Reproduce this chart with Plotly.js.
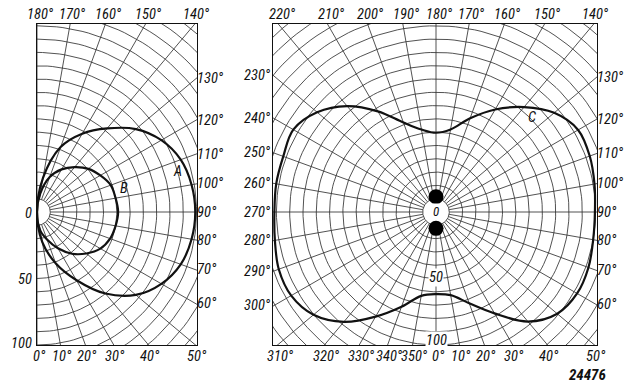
<!DOCTYPE html>
<html><head><meta charset="utf-8">
<script src="https://cdn.plot.ly/plotly-3.0.1.min.js"></script>
<style>body{margin:0;background:#fff}#chart{width:628px;height:387px}</style>
</head><body><div id="chart"></div>
<script>
// ---- data (polar: angle in degrees measured from downward direction, radius in chart units) ----
const anglesAB = [0,10,20,30,40,50,60,70,80,90,100,110,120,130,140,150,160,170,180];
const curveA   = [0,23,41,59,80,97,108,115,118,119,118,115,108,97,82,68,52,26,0];
const curveB   = [0,14,22,31.5,41,48.5,55,58.5,60,61,60,59,55,50.5,44,37,28,14,0];
const anglesC  = [0,10,20,30,40,50,60,70,80,90,100,110,120,130,140,150,160,170,180,
                  190,200,210,220,230,240,250,260,270,280,290,300,310,320,330,340,350,360];
const curveC   = [61.7,63.5,73,88,107.5,119,122.5,122,120,119.5,121,123,123.4,116,103,89,75,63,59.6,
                  63,71.6,87.4,104,116.7,123.9,122.2,122,121.5,123,125.8,125.7,120.2,107.8,90.8,75.8,64,61.7];
const dotAngles = [180,0];
const dotRadii  = [11.5,12.3];
const ringRadii = [10,20,30,40,50,60,70,80,90,100,110,120,130,140,150,160,170,180,190];
const spokeAngles = [0,10,20,30,40,50,60,70,80,90,100,110,120,130,140,150,160,170,
                     180,190,200,210,220,230,240,250,260,270,280,290,300,310,320,330,340,350];
const leftAngleLabels  = [0,10,20,30,40,50,60,70,80,90,100,110,120,130,140,150,160,170,180];
const rightAngleLabels = spokeAngles;
const leftRadiusLabels = ["0","50","100"];
const leftRadiusValues = [0,50,100];
const rightRadiusLabels = ["0","50","100"];
const rightRadiusValues = [0,50,100];

// ---- layout geometry ----
const W = 628, H = 387, S = 1.33;
const frameL = {x0:37, x1:197, y0:24, y1:345, ox:37, oy:212};
const frameR = {x0:273, x1:597, y0:24, y1:345, ox:436, oy:212};
function dataFrame(f){ return {xmin:(f.x0-f.ox)/S, xmax:(f.x1-f.ox)/S, ymin:-(f.y1-f.oy)/S, ymax:(f.oy-f.y0)/S}; }
const dL = dataFrame(frameL), dR = dataFrame(frameR);

const rad = d => d*Math.PI/180;
function toXY(th, rs){ const x=[],y=[]; th.forEach((t,i)=>{ x.push(rs[i]*Math.sin(rad(t))); y.push(-rs[i]*Math.cos(rad(t))); }); return {x,y}; }

function gridTraces(xa, ya){
  const rx=[], ry=[];
  ringRadii.forEach(r=>{ for(let d=0; d<=360; d+=2){ rx.push(r*Math.sin(rad(d))); ry.push(-r*Math.cos(rad(d))); } rx.push(null); ry.push(null); });
  const sx=[], sy=[];
  spokeAngles.forEach(d=>{ const s=Math.sin(rad(d)), c=-Math.cos(rad(d)); sx.push(10*s, 200*s, null); sy.push(10*c, 200*c, null); });
  const ln = {color:'#333', width:0.85};
  return [
    {type:'scatter', mode:'lines', x:rx, y:ry, xaxis:xa, yaxis:ya, line:ln, hoverinfo:'skip', showlegend:false},
    {type:'scatter', mode:'lines', x:sx, y:sy, xaxis:xa, yaxis:ya, line:ln, hoverinfo:'skip', showlegend:false}
  ];
}
function curveTrace(th, rs, xa, ya){
  const p = toXY(th, rs);
  return {type:'scatter', mode:'lines', x:p.x, y:p.y, xaxis:xa, yaxis:ya,
          line:{color:'#111', width:2.2, shape:'spline', smoothing:1}, hoverinfo:'skip', showlegend:false};
}
const dots = toXY(dotAngles, dotRadii);

const traces = [
  ...gridTraces('x','y'),
  ...gridTraces('x2','y2'),
  curveTrace(anglesAB, curveA, 'x','y'),
  curveTrace(anglesAB, curveB, 'x','y'),
  curveTrace(anglesC, curveC, 'x2','y2'),
  {type:'scatter', mode:'markers', x:dots.x, y:dots.y, xaxis:'x2', yaxis:'y2',
   marker:{color:'#000', size:15}, hoverinfo:'skip', showlegend:false}
];

// ---- labels ----
const FAM = 'Roboto Condensed, Liberation Sans Narrow, Liberation Sans, sans-serif';
const FONT = {family:FAM, size:14.5, color:'#111', style:'italic'};
function edgeHit(d, f){
  const dx=Math.sin(rad(d)), dy=-Math.cos(rad(d));
  let best=Infinity, side='';
  if(dx>1e-6){const t=f.xmax/dx; if(t<best){best=t;side='right';}}
  if(dx<-1e-6){const t=f.xmin/dx; if(t<best){best=t;side='left';}}
  if(dy>1e-6){const t=f.ymax/dy; if(t<best){best=t;side='top';}}
  if(dy<-1e-6){const t=f.ymin/dy; if(t<best){best=t;side='bottom';}}
  best *= 0.995;
  return {x:best*dx, y:best*dy, side};
}
const annotations = [];
function angleLabels(list, f, xr, yr){
  list.forEach(d=>{
    const h = edgeHit(d, f);
    const a = {x:h.x, y:h.y, xref:xr, yref:yr, text:d+'°', showarrow:false, font:FONT, borderpad:0};
    if(h.side==='top'){a.yanchor='bottom'; a.xanchor='center'; a.xshift=3; a.yshift=1;}
    else if(h.side==='bottom'){a.yanchor='top'; a.xanchor='center'; a.xshift=2; a.yshift=-3;}
    else if(h.side==='right'){a.xanchor='left'; a.yanchor='middle'; a.xshift=0;}
    else {a.xanchor='right'; a.yanchor='middle'; a.xshift=-2;}
    annotations.push(a);
  });
}
angleLabels(leftAngleLabels, dL, 'x', 'y');
angleLabels(rightAngleLabels, dR, 'x2', 'y2');
leftRadiusValues.forEach((v,i)=>annotations.push({x:0, y:-v*0.995, xref:'x', yref:'y', text:leftRadiusLabels[i],
  showarrow:false, font:FONT, xanchor:'right', yanchor:'middle', xshift:-3, yshift: i===2?1:-1}));
rightRadiusValues.forEach((v,i)=>annotations.push({x:0, y:-v*0.995, xref:'x2', yref:'y2', text:rightRadiusLabels[i],
  showarrow:false, font:Object.assign({},FONT,{size: i===0?13:14.5}), xanchor:'center', yanchor:'middle',
  bgcolor:'#fff', borderpad:0, yshift: i===2?4:1}));
annotations.push({x:105.3, y:30.1, xref:'x', yref:'y', text:'A', showarrow:false, font:FONT});
annotations.push({x:65.4, y:18.0, xref:'x', yref:'y', text:'B', showarrow:false, font:FONT});
annotations.push({x:72.2, y:70.7, xref:'x2', yref:'y2', text:'C', showarrow:false, font:FONT});
annotations.push({x:608/W, y:0, xref:'paper', yref:'paper', text:'24476', showarrow:false,
  xanchor:'right', yanchor:'bottom', yshift:1,
  font:{family:FAM, size:15, color:'#111', style:'italic', weight:'bold'}});

function axis(f, dom, isX){
  return {domain: isX ? [f.x0/W, f.x1/W] : [1-f.y1/H, 1-f.y0/H],
          range: dom, showgrid:false, zeroline:false, showticklabels:false, ticks:'',
          showline:true, mirror:true, linecolor:'#111', linewidth:1.3, fixedrange:true};
}
const layout = {
  width:W, height:H, margin:{l:0,r:0,t:0,b:0}, paper_bgcolor:'#fff', plot_bgcolor:'#fff',
  showlegend:false,
  xaxis: axis(frameL, [dL.xmin, dL.xmax], true),
  yaxis: axis(frameL, [dL.ymin, dL.ymax], false),
  xaxis2: Object.assign(axis(frameR, [dR.xmin, dR.xmax], true), {anchor:'y2'}),
  yaxis2: Object.assign(axis(frameR, [dR.ymin, dR.ymax], false), {anchor:'x2'}),
  annotations
};
layout.xaxis.anchor='y'; layout.yaxis.anchor='x';
Plotly.newPlot('chart', traces, layout, {displayModeBar:false, staticPlot:true});
</script></body></html>
